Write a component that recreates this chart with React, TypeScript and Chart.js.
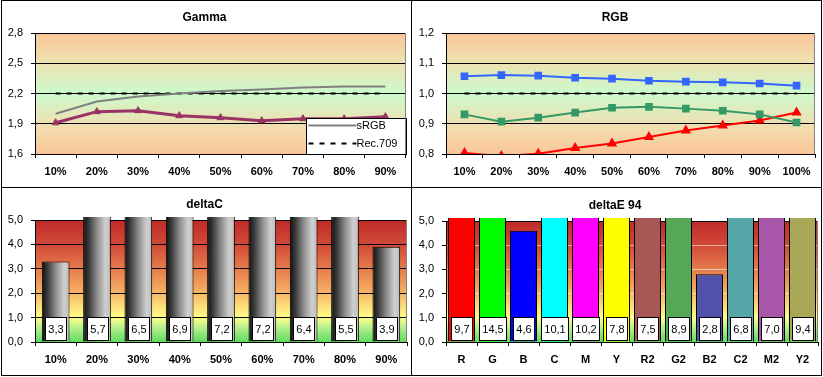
import React, { useEffect, useRef } from "react";
import { Chart, registerables } from "chart.js";
Chart.register(...registerables);

const FONT = "'Liberation Sans', Arial, sans-serif";
const NARROW = "'Liberation Sans Narrow', 'Liberation Sans', Arial, sans-serif";

// ---- Gamma ----
const gammaCategories = ["10%", "20%", "30%", "40%", "50%", "60%", "70%", "80%", "90%"];
const gammaMeasured = [1.91, 2.02, 2.03, 1.98, 1.96, 1.93, 1.95, 1.95, 1.97];
const gammaSRGB = [2.0, 2.12, 2.17, 2.2, 2.225, 2.24, 2.26, 2.27, 2.27];
const gammaRec709 = [2.2, 2.2, 2.2, 2.2, 2.2, 2.2, 2.2, 2.2, 2.2];
const gammaTicks = [1.6, 1.9, 2.2, 2.5, 2.8];

// ---- RGB ----
const rgbCategories = ["10%", "20%", "30%", "40%", "50%", "60%", "70%", "80%", "90%", "100%"];
const rgbRed = [0.803, 0.793, 0.801, 0.82, 0.835, 0.856, 0.878, 0.894, 0.911, 0.937];
const rgbGreen = [0.931, 0.907, 0.92, 0.937, 0.953, 0.956, 0.95, 0.943, 0.931, 0.904];
const rgbBlue = [1.057, 1.061, 1.059, 1.052, 1.049, 1.042, 1.039, 1.037, 1.033, 1.026];
const rgbTarget = [1.0, 1.0, 1.0, 1.0, 1.0, 1.0, 1.0, 1.0, 1.0, 1.0];
const rgbTicks = [0.8, 0.9, 1.0, 1.1, 1.2];

// ---- deltaC ----
const deltaCCategories = ["10%", "20%", "30%", "40%", "50%", "60%", "70%", "80%", "90%"];
const deltaCValues = [3.3, 5.7, 6.5, 6.9, 7.2, 7.2, 6.4, 5.5, 3.9];
const deltaTicks = [0, 1, 2, 3, 4, 5];

// ---- deltaE 94 ----
const deltaECategories = ["R", "G", "B", "C", "M", "Y", "R2", "G2", "B2", "C2", "M2", "Y2"];
const deltaEValues = [9.7, 14.5, 4.6, 10.1, 10.2, 7.8, 7.5, 8.9, 2.8, 6.8, 7.0, 9.4];
const deltaEColors = ["#FF0000", "#00FF00", "#0000FF", "#00FFFF", "#FF00FF", "#FFFF00", "#A85656", "#56A856", "#5252AA", "#56A8A8", "#A856A8", "#A8A856"];

type Rect = { x: number; y: number; w: number; h: number };
type Plot = { l: number; t: number; r: number; b: number };

const P1: Rect = { x: 2, y: 1, w: 409, h: 186 };
const P2: Rect = { x: 412, y: 1, w: 409, h: 186 };
const P3: Rect = { x: 2, y: 188, w: 409, h: 187 };
const P4: Rect = { x: 412, y: 188, w: 409, h: 187 };

const A1: Plot = { l: 35, t: 33, r: 407, b: 154 };
const A2: Plot = { l: 446, t: 33, r: 818, b: 154 };
const A3: Plot = { l: 35, t: 220, r: 407, b: 342 };
const A4: Plot = { l: 446, t: 221, r: 818, b: 342 };

const fmt = (v: number) => Number(v).toFixed(1).replace(".", ",");

const lineBg: [number, string][] = [
  [0, "#FAC699"],
  [0.22, "#F2DDAE"],
  [0.5, "#CCFACC"],
  [0.78, "#F0DFAE"],
  [1, "#FAC598"],
];
const heatBg: [number, string][] = [
  [0, "#5EDB5E"],
  [0.12, "#B8F08E"],
  [0.2, "#FFFF88"],
  [0.32, "#FCD475"],
  [0.45, "#F2A45E"],
  [0.62, "#E3774A"],
  [0.8, "#D24A38"],
  [1, "#BE2A28"],
];

function bgPlugin(stops: [number, string][]) {
  return {
    id: "plotBg",
    beforeDraw(chart: any) {
      const { ctx, chartArea: a } = chart;
      if (!a) return;
      const g = ctx.createLinearGradient(0, a.bottom, 0, a.top);
      stops.forEach(([p, c]) => g.addColorStop(p, c));
      ctx.save();
      ctx.fillStyle = g;
      ctx.fillRect(a.left, a.top, a.right - a.left, a.bottom - a.top);
      ctx.restore();
    },
    afterDraw(chart: any) {
      const { ctx, chartArea: a } = chart;
      ctx.save();
      ctx.strokeStyle = "#808080";
      ctx.lineWidth = 1;
      ctx.beginPath();
      ctx.moveTo(Math.round(a.right) - 0.5, a.top);
      ctx.lineTo(Math.round(a.right) - 0.5, a.bottom);
      ctx.stroke();
      ctx.restore();
    },
  };
}

const boxLabelPlugin = {
  id: "boxLabels",
  afterDatasetsDraw(chart: any) {
    const ctx = chart.ctx;
    const a = chart.chartArea;
    const meta = chart.getDatasetMeta(0);
    const data = chart.data.datasets[0].data as number[];
    ctx.save();
    ctx.font = `11px ${FONT}`;
    meta.data.forEach((el: any, i: number) => {
      const txt = fmt(data[i]);
      const tw = ctx.measureText(txt).width;
      const bw = Math.round(tw + 6);
      const bh = 23;
      const x = Math.round(el.x - bw / 2) + 0.5;
      const y = Math.round(a.bottom - 2 - bh) + 0.5;
      ctx.fillStyle = "#fff";
      ctx.fillRect(x, y, bw, bh);
      ctx.strokeStyle = "#000";
      ctx.lineWidth = 1;
      ctx.strokeRect(x, y, bw, bh);
      ctx.fillStyle = "#000";
      ctx.textAlign = "center";
      ctx.textBaseline = "middle";
      ctx.fillText(txt, x + bw / 2, y + bh / 2 + 1);
    });
    ctx.restore();
  },
};

const gammaLegendPlugin = {
  id: "gammaLegend",
  afterDatasetsDraw(chart: any) {
    const ctx = chart.ctx;
    const a = chart.chartArea;
    const ds = chart.data.datasets;
    const w = 100, h = 36;
    const x0 = Math.round(a.right - w) + 0.5;
    const y0 = Math.round(a.bottom - h) + 0.5;
    ctx.save();
    ctx.fillStyle = "#fff";
    ctx.fillRect(x0, y0, w, h);
    ctx.strokeStyle = "#000";
    ctx.lineWidth = 1;
    ctx.strokeRect(x0, y0, w, h);
    const rows = [ds[1], ds[2]];
    rows.forEach((d: any, i: number) => {
      const y = y0 + 7 + i * 18;
      ctx.beginPath();
      ctx.strokeStyle = d.borderColor;
      ctx.lineWidth = d.borderWidth;
      ctx.setLineDash(d.borderDash || []);
      ctx.moveTo(x0 + 2, y);
      ctx.lineTo(x0 + 50, y);
      ctx.stroke();
      ctx.setLineDash([]);
      ctx.fillStyle = "#000";
      ctx.font = `11px ${FONT}`;
      ctx.textAlign = "left";
      ctx.textBaseline = "middle";
      ctx.fillText(d.label, x0 + 50, y + 0.5);
    });
    ctx.restore();
  },
};

function makeOptions(
  rect: Rect,
  plot: Plot,
  title: string,
  titleCenterY: number,
  ticks: number[],
  gridColor: any
): any {
  const titleTop = titleCenterY - rect.y - 7.2;
  const titleBottom = plot.t - rect.y - 14.4 - titleTop;
  return {
    responsive: false,
    animation: false,
    events: [],
    layout: { padding: { left: 0, top: 0, bottom: 0, right: rect.x + rect.w - plot.r } },
    plugins: {
      legend: { display: false },
      tooltip: { enabled: false },
      title: {
        display: true,
        text: title,
        color: "#000",
        font: { family: FONT, size: 12, weight: "bold" },
        padding: { top: titleTop, bottom: titleBottom },
      },
    },
    scales: {
      x: {
        offset: true,
        grid: { offset: true, drawOnChartArea: false, drawTicks: true, tickLength: 4, color: "#000", tickColor: "#000" },
        border: { color: "#000", width: 1 },
        ticks: {
          color: "#000",
          font: { family: NARROW, size: 11, weight: "bold" },
          padding: 7,
          maxRotation: 0,
          autoSkip: false,
        },
        afterFit: (s: any) => {
          s.height = rect.y + rect.h - plot.b;
        },
      },
      y: {
        min: ticks[0],
        max: ticks[ticks.length - 1],
        afterBuildTicks: (s: any) => {
          s.ticks = ticks.map((v) => ({ value: v }));
        },
        afterFit: (s: any) => {
          s.width = plot.l - rect.x;
        },
        grid: { color: gridColor, lineWidth: 1, drawTicks: true, tickLength: 4, tickColor: "#000" },
        border: { color: "#000", width: 1 },
        ticks: {
          color: "#000",
          font: { family: FONT, size: 11 },
          padding: 8,
          callback: (v: any) => fmt(Number(v)),
        },
      },
    },
  };
}

function cylinderFill(categoriesCount: number, pct: number) {
  return (c: any) => {
    const chart = c.chart;
    const a = chart.chartArea;
    const xs = chart.scales && chart.scales.x;
    if (!a || !xs || c.dataIndex === undefined) return "#888";
    const cx = xs.getPixelForValue(c.dataIndex);
    const w = ((a.right - a.left) / categoriesCount) * pct;
    const g = chart.ctx.createLinearGradient(cx - w / 2, 0, cx + w / 2, 0);
    g.addColorStop(0, "#101010");
    g.addColorStop(0.2, "#3a3a3a");
    g.addColorStop(0.5, "#8c8c8c");
    g.addColorStop(0.8, "#cfcfcf");
    g.addColorStop(1, "#bcbcbc");
    return g;
  };
}

export default function App() {
  const r1 = useRef<HTMLCanvasElement>(null);
  const r2 = useRef<HTMLCanvasElement>(null);
  const r3 = useRef<HTMLCanvasElement>(null);
  const r4 = useRef<HTMLCanvasElement>(null);

  useEffect(() => {
    document.body.style.margin = "0";
    const charts: Chart[] = [];

    charts.push(
      new Chart(r1.current as HTMLCanvasElement, {
        type: "line",
        data: {
          labels: gammaCategories,
          datasets: [
            {
              label: "Gamma",
              data: gammaMeasured,
              borderColor: "#993366",
              backgroundColor: "#993366",
              borderWidth: 3,
              pointStyle: "triangle",
              pointRadius: 4,
              pointBorderWidth: 1,
              tension: 0,
              order: 0,
            },
            {
              label: "sRGB",
              data: gammaSRGB,
              borderColor: "#808080",
              borderWidth: 2,
              pointRadius: 0,
              order: 1,
            },
            {
              label: "Rec.709",
              data: gammaRec709,
              borderColor: "#000000",
              borderWidth: 2,
              borderDash: [5, 6],
              pointRadius: 0,
              order: 2,
            },
          ],
        },
        options: makeOptions(P1, A1, "Gamma", 18, gammaTicks, "#000"),
        plugins: [bgPlugin(lineBg), gammaLegendPlugin],
      })
    );

    charts.push(
      new Chart(r2.current as HTMLCanvasElement, {
        type: "line",
        data: {
          labels: rgbCategories,
          datasets: [
            {
              label: "Target",
              data: rgbTarget,
              borderColor: "#000",
              borderWidth: 2,
              borderDash: [5, 6],
              pointRadius: 0,
            },
            {
              label: "B",
              data: rgbBlue,
              borderColor: "#3366FF",
              backgroundColor: "#3366FF",
              borderWidth: 2,
              pointStyle: "rect",
              pointRadius: 4,
            },
            {
              label: "G",
              data: rgbGreen,
              borderColor: "#339966",
              backgroundColor: "#339966",
              borderWidth: 2,
              pointStyle: "rect",
              pointRadius: 4,
            },
            {
              label: "R",
              data: rgbRed,
              borderColor: "#FF0000",
              backgroundColor: "#FF0000",
              borderWidth: 2,
              pointStyle: "triangle",
              pointRadius: 4,
            },
          ],
        },
        options: makeOptions(P2, A2, "RGB", 18, rgbTicks, "#000"),
        plugins: [bgPlugin(lineBg)],
      })
    );

    charts.push(
      new Chart(r3.current as HTMLCanvasElement, {
        type: "bar",
        data: {
          labels: deltaCCategories,
          datasets: [
            {
              label: "deltaC",
              data: deltaCValues,
              backgroundColor: cylinderFill(deltaCCategories.length, 0.67),
              borderColor: "#000",
              borderWidth: 1,
              categoryPercentage: 1,
              barPercentage: 0.67,
              clip: { left: 0, top: 3, right: 0, bottom: 0 },
            } as any,
          ],
        },
        options: makeOptions(P3, A3, "deltaC", 205, deltaTicks, "#000"),
        plugins: [bgPlugin(heatBg), boxLabelPlugin],
      })
    );

    charts.push(
      new Chart(r4.current as HTMLCanvasElement, {
        type: "bar",
        data: {
          labels: deltaECategories,
          datasets: [
            {
              label: "deltaE 94",
              data: deltaEValues,
              backgroundColor: deltaEColors,
              borderColor: "#000",
              borderWidth: 1,
              categoryPercentage: 1,
              barPercentage: 0.87,
              clip: { left: 0, top: 3, right: 0, bottom: 0 },
            } as any,
          ],
        },
        options: makeOptions(P4, A4, "deltaE 94", 205.5, deltaTicks, (c: any) =>
          c.tick && c.tick.value === 5 ? "#000" : "rgba(255,255,255,0.55)"
        ),
        plugins: [bgPlugin(heatBg), boxLabelPlugin],
      })
    );

    return () => charts.forEach((c) => c.destroy());
  }, []);

  const cv = (r: Rect, ref: any) => (
    <canvas
      ref={ref}
      width={r.w}
      height={r.h}
      style={{ position: "absolute", left: r.x, top: r.y, width: r.w, height: r.h }}
    />
  );
  const line = (x: number, y: number, w: number, h: number) => (
    <div style={{ position: "absolute", left: x, top: y, width: w, height: h, background: "#000" }} />
  );

  return (
    <div style={{ position: "fixed", left: 0, top: 0, width: 823, height: 377, background: "#fff", overflow: "hidden" }}>
      {cv(P1, r1)}
      {cv(P2, r2)}
      {cv(P3, r3)}
      {cv(P4, r4)}
      {line(1, 0, 821, 1)}
      {line(1, 0, 1, 376)}
      {line(821, 0, 1, 376)}
      {line(1, 375, 821, 1)}
      {line(411, 0, 1, 376)}
      {line(1, 187, 821, 1)}
    </div>
  );
}
